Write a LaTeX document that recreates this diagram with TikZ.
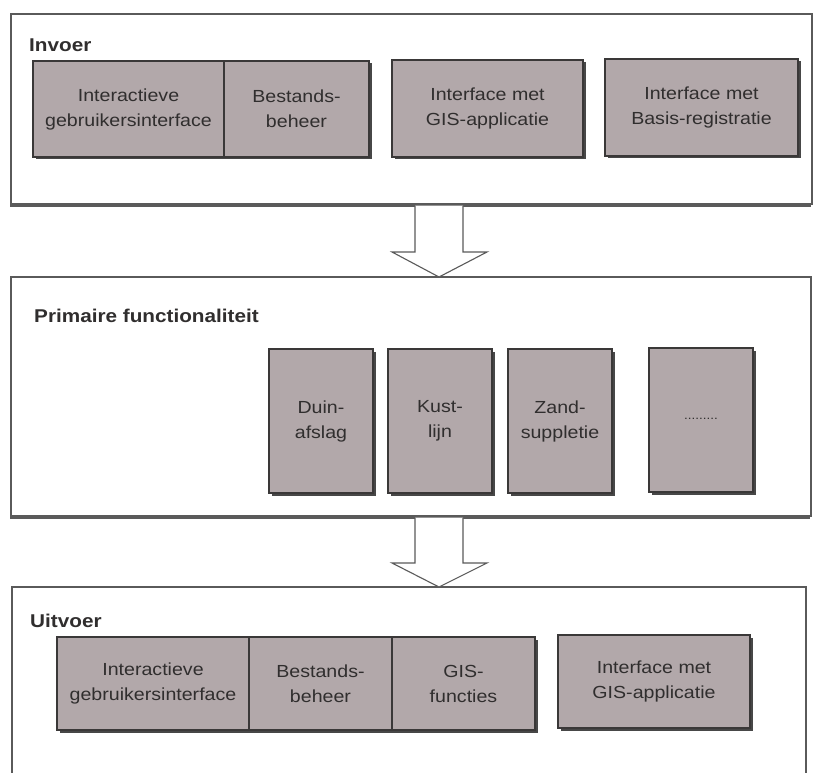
\documentclass[tikz,border=0pt]{standalone}
\usepackage{fontspec}
\setmainfont[FakeStretch=1.12]{Liberation Sans}
\usetikzlibrary{shadows}
\definecolor{boxfill}{RGB}{178,168,170}
\definecolor{txt}{RGB}{48,46,46}
\definecolor{edge}{RGB}{58,56,56}
\definecolor{frame}{RGB}{90,90,90}
\begin{document}
\begin{tikzpicture}[x=1pt,y=-1pt,
  box/.style={draw=edge, line width=1.1pt, fill=boxfill, inner sep=0pt, align=center,
    text=txt, font=\fontsize{17.5}{25}\selectfont,
    drop shadow={shadow xshift=2.5pt, shadow yshift=-2.5pt, fill=black!72, opacity=1}},
  panel/.style={draw=frame, line width=1.1pt, inner sep=0pt},
  paneltitle/.style={anchor=base west, inner sep=0pt, text=txt, font=\bfseries\fontsize{18.5}{22}\selectfont},
  blockarrow/.style={draw=frame, line width=1.1pt, fill=white, line join=miter}]
\useasboundingbox (0,0) rectangle (814,773);
\fill[white] (0,0) rectangle (814,773);

% ---- Invoer panel
\node[panel, minimum width=801pt, minimum height=190pt] (p1) at (411.5,109) {};
\draw[frame, line width=2.4pt] (p1.south west) ++(0,1.2) -- ++(801,0);
\node[paneltitle] (t1) at (29,52) {Invoer};
\node[box, minimum width=191pt, minimum height=96pt] (i1) at (128.5,109) {Interactieve\\gebruikersinterface};
\node[box, minimum width=145pt, minimum height=96pt] (i2) at (296.5,109) {Bestands-\\beheer};
\node[box, minimum width=191pt, minimum height=97pt] (i3) at (487.5,108.5) {Interface met\\GIS-applicatie};
\node[box, minimum width=193pt, minimum height=97pt] (i4) at (701.5,107.5) {Interface met\\Basis-registratie};

% ---- Primaire functionaliteit panel
\node[panel, minimum width=800pt, minimum height=239pt] (p2) at (411,396.5) {};
\draw[frame, line width=2.4pt] (p2.south west) ++(0,1.2) -- ++(800,0);
\node[paneltitle] (t2) at (34,322) {Primaire functionaliteit};
\node[box, minimum width=104pt, minimum height=144pt] (f1) at (321,421) {Duin-\\afslag};
\node[box, minimum width=104pt, minimum height=144pt] (f2) at (440,421) {Kust-\\lijn};
\node[box, minimum width=104pt, minimum height=144pt] (f3) at (560,421) {Zand-\\suppletie};
\node[box, minimum width=104pt, minimum height=144pt] (f4) at (701,420) {\raisebox{2pt}{\fontsize{12}{14}\selectfont .........}};

% ---- Uitvoer panel (open at the bottom)
\draw[frame, line width=1.1pt] (12,773) -- (12,587) coordinate (p3nw) -- (806,587) coordinate (p3ne) -- (806,773);
\node[paneltitle] (t3) at (30,627) {Uitvoer};
\node[box, minimum width=192pt, minimum height=93pt] (u1) at (153,683.5) {Interactieve\\gebruikersinterface};
\node[box, minimum width=143pt, minimum height=93pt] (u2) at (320.5,683.5) {Bestands-\\beheer};
\node[box, minimum width=143pt, minimum height=93pt] (u3) at (463.5,683.5) {GIS-\\functies};
\node[box, minimum width=192pt, minimum height=93pt] (u4) at (654,681.5) {Interface met\\GIS-applicatie};

% ---- block arrows
\draw[blockarrow] (415,205.5) -- (415,252) -- (392,252) -- (439,277) -- (487,252) -- (463,252) -- (463,205.5);
\draw[blockarrow] (415,517.5) -- (415,563) -- (392,563) -- (439,587) -- (487,563) -- (463,563) -- (463,517.5);
\end{tikzpicture}
\end{document}
